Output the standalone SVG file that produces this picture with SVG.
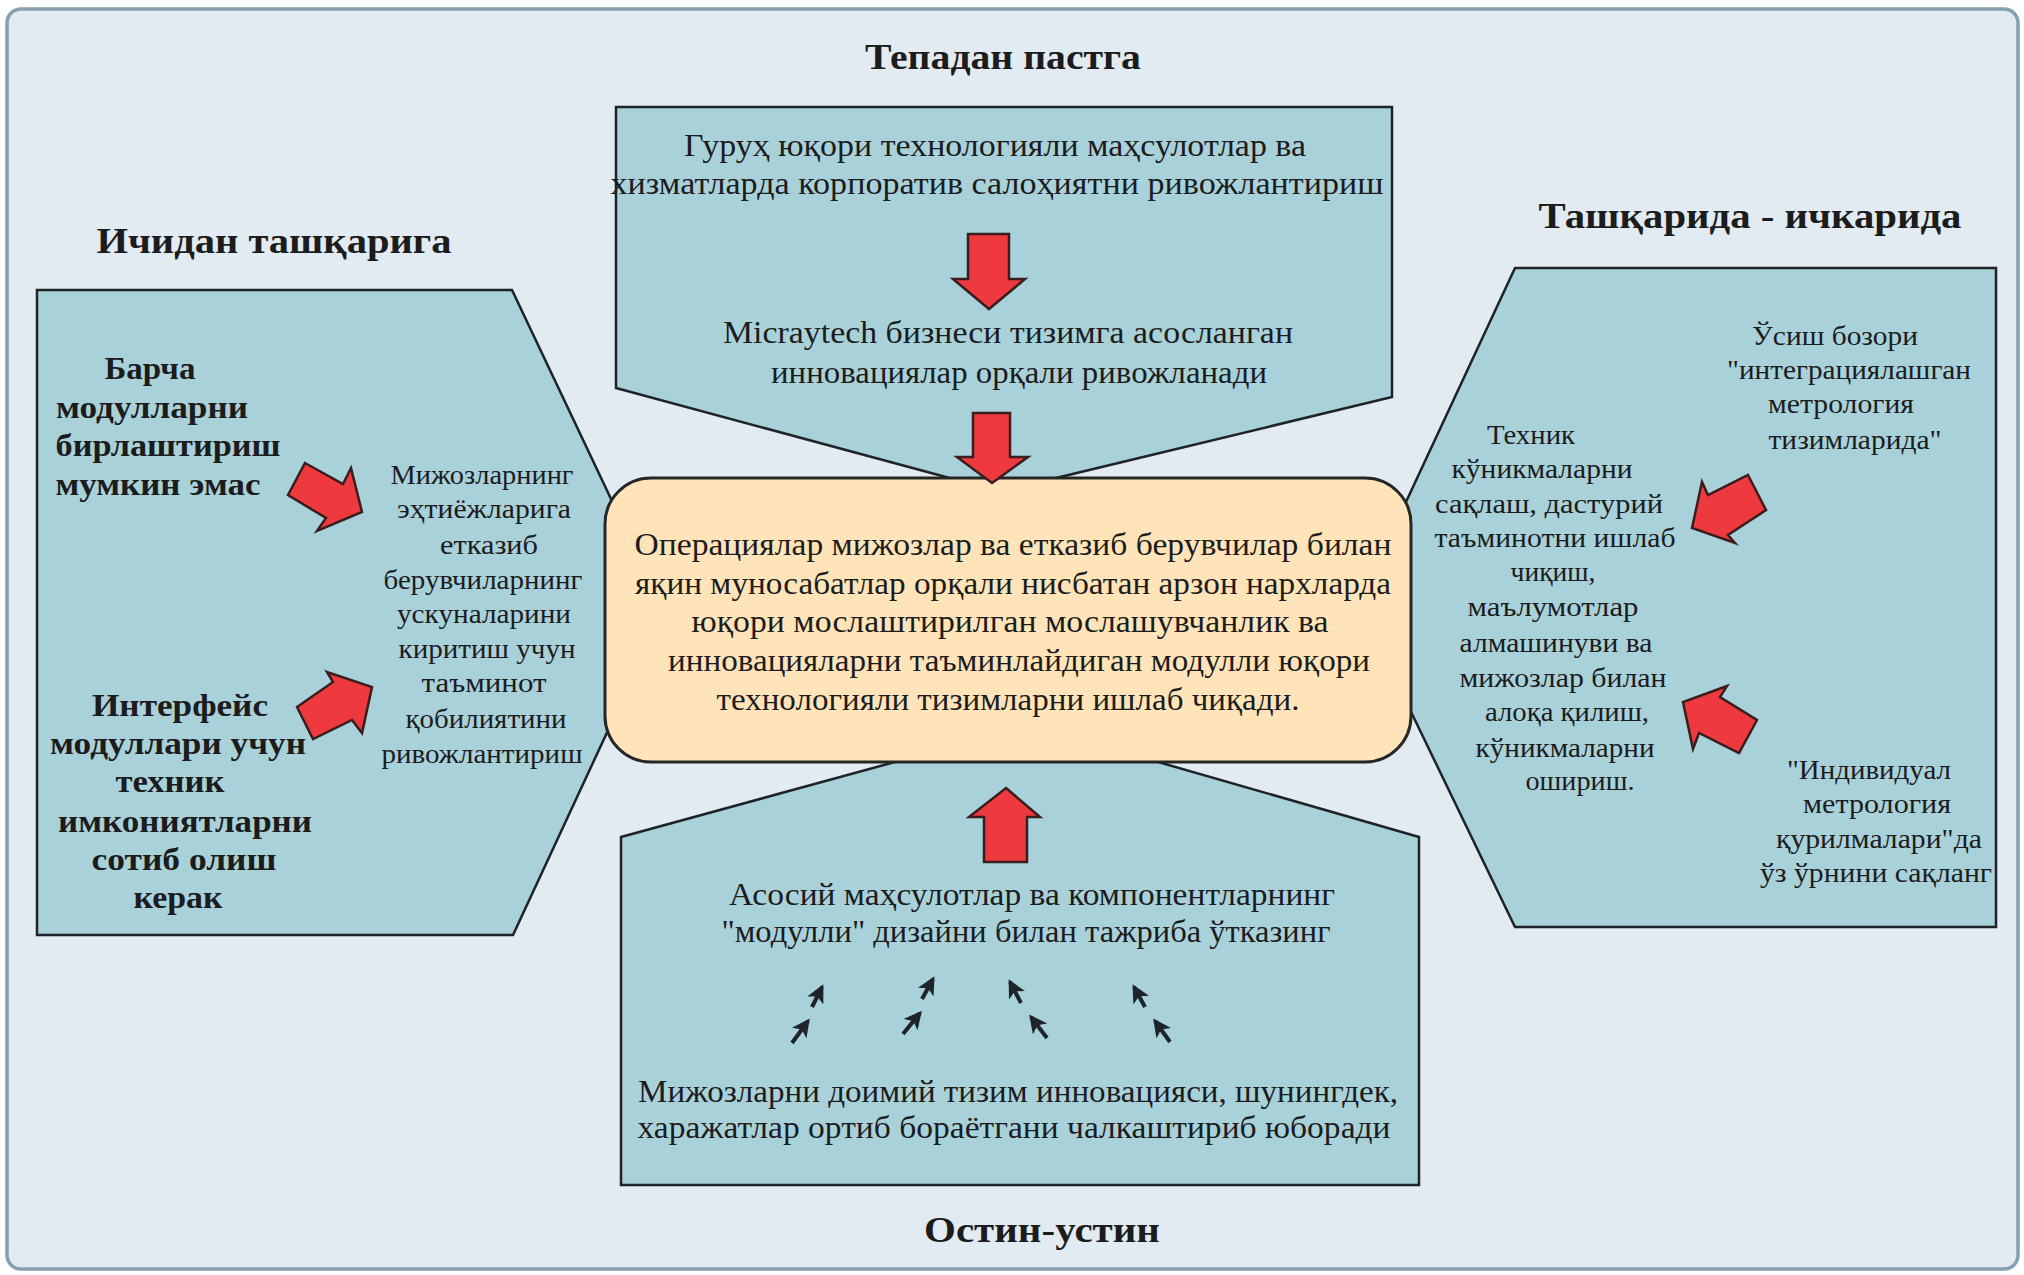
<svg xmlns="http://www.w3.org/2000/svg" width="2024" height="1275" viewBox="0 0 2024 1275">
<defs>
<style>
.box{fill:#a9d1da;stroke:#1d2326;stroke-width:2.5;stroke-linejoin:miter}
.core{fill:#fee4b8;stroke:#262626;stroke-width:3}
.red{fill:#ee3a3e;stroke:#3a1d1d;stroke-width:2.5;stroke-linejoin:miter}
.t{font-family:"Liberation Serif","Times New Roman",serif;fill:#1c1c1c;text-anchor:middle}
.h{font-size:36px;font-weight:bold}
.m{font-size:32px}
.s{font-size:28px}
.b{font-size:31px;font-weight:bold}
.blk{stroke:#1f2428;stroke-width:4;fill:none}
</style>
<marker id="ah" viewBox="0 0 12 12" refX="10" refY="6" markerWidth="18" markerHeight="18" markerUnits="userSpaceOnUse" orient="auto">
<path d="M0,0 L12,6 L0,12 L3,6 z" fill="#1f2428"/>
</marker>
</defs>
<rect x="0" y="0" width="2024" height="1275" fill="#ffffff"/>
<rect x="7" y="9" width="2011" height="1260" rx="14" fill="#e1ebf1" stroke="#86a0b0" stroke-width="3.5"/>

<g id="top-node">
<polygon class="box" points="616,107 1392,107 1392,397 1006,490 994,490 616,388"/>
<text class="t m" x="995" y="156" textLength="622" lengthAdjust="spacingAndGlyphs">Гуруҳ юқори технологияли маҳсулотлар ва</text>
<text class="t m" x="997" y="194" textLength="773" lengthAdjust="spacingAndGlyphs">хизматларда корпоратив салоҳиятни ривожлантириш</text>
<text class="t m" x="1008" y="343" textLength="570" lengthAdjust="spacingAndGlyphs">Micraytech бизнеси тизимга асосланган</text>
<text class="t m" x="1019" y="383" textLength="496" lengthAdjust="spacingAndGlyphs">инновациялар орқали ривожланади</text>
</g>

<g id="left-node">
<polygon class="box" points="37,290 512,290 630,539 630,683 513,935 37,935"/>
<text class="t b" x="150" y="379" textLength="91" lengthAdjust="spacingAndGlyphs">Барча</text>
<text class="t b" x="152" y="418" textLength="192" lengthAdjust="spacingAndGlyphs">модулларни</text>
<text class="t b" x="168" y="456" textLength="225" lengthAdjust="spacingAndGlyphs">бирлаштириш</text>
<text class="t b" x="158" y="495" textLength="205" lengthAdjust="spacingAndGlyphs">мумкин эмас</text>
<text class="t b" x="180" y="716" textLength="176" lengthAdjust="spacingAndGlyphs">Интерфейс</text>
<text class="t b" x="178" y="754" textLength="256" lengthAdjust="spacingAndGlyphs">модуллари учун</text>
<text class="t b" x="170" y="792" textLength="109" lengthAdjust="spacingAndGlyphs">техник</text>
<text class="t b" x="185" y="832" textLength="254" lengthAdjust="spacingAndGlyphs">имкониятларни</text>
<text class="t b" x="184" y="870" textLength="185" lengthAdjust="spacingAndGlyphs">сотиб олиш</text>
<text class="t b" x="178" y="908" textLength="89" lengthAdjust="spacingAndGlyphs">керак</text>
<text class="t s" x="482" y="484" textLength="183" lengthAdjust="spacingAndGlyphs">Мижозларнинг</text>
<text class="t s" x="484" y="518" textLength="174" lengthAdjust="spacingAndGlyphs">эҳтиёжларига</text>
<text class="t s" x="489" y="554" textLength="98" lengthAdjust="spacingAndGlyphs">етказиб</text>
<text class="t s" x="483" y="589" textLength="199" lengthAdjust="spacingAndGlyphs">берувчиларнинг</text>
<text class="t s" x="484" y="623" textLength="174" lengthAdjust="spacingAndGlyphs">ускуналарини</text>
<text class="t s" x="487" y="658" textLength="177" lengthAdjust="spacingAndGlyphs">киритиш учун</text>
<text class="t s" x="484" y="692" textLength="125" lengthAdjust="spacingAndGlyphs">таъминот</text>
<text class="t s" x="486" y="728" textLength="161" lengthAdjust="spacingAndGlyphs">қобилиятини</text>
<text class="t s" x="482" y="763" textLength="201" lengthAdjust="spacingAndGlyphs">ривожлантириш</text>
</g>

<g id="right-node">
<polygon class="box" points="1515,268 1996,268 1996,927 1515,927 1385,658 1385,547"/>
<text class="t s" x="1835" y="345" textLength="166" lengthAdjust="spacingAndGlyphs">Ўсиш бозори</text>
<text class="t s" x="1849" y="379" textLength="244" lengthAdjust="spacingAndGlyphs">"интеграциялашган</text>
<text class="t s" x="1841" y="413" textLength="146" lengthAdjust="spacingAndGlyphs">метрология</text>
<text class="t s" x="1855" y="449" textLength="173" lengthAdjust="spacingAndGlyphs">тизимларида"</text>
<text class="t s" x="1531" y="444" textLength="88" lengthAdjust="spacingAndGlyphs">Техник</text>
<text class="t s" x="1542" y="478" textLength="181" lengthAdjust="spacingAndGlyphs">кўникмаларни</text>
<text class="t s" x="1549" y="513" textLength="228" lengthAdjust="spacingAndGlyphs">сақлаш, дастурий</text>
<text class="t s" x="1555" y="547" textLength="241" lengthAdjust="spacingAndGlyphs">таъминотни ишлаб</text>
<text class="t s" x="1553" y="581" textLength="85" lengthAdjust="spacingAndGlyphs">чиқиш,</text>
<text class="t s" x="1553" y="616" textLength="171" lengthAdjust="spacingAndGlyphs">маълумотлар</text>
<text class="t s" x="1556" y="652" textLength="193" lengthAdjust="spacingAndGlyphs">алмашинуви ва</text>
<text class="t s" x="1563" y="687" textLength="207" lengthAdjust="spacingAndGlyphs">мижозлар билан</text>
<text class="t s" x="1567" y="721" textLength="164" lengthAdjust="spacingAndGlyphs">алоқа қилиш,</text>
<text class="t s" x="1565" y="757" textLength="179" lengthAdjust="spacingAndGlyphs">кўникмаларни</text>
<text class="t s" x="1580" y="790" textLength="109" lengthAdjust="spacingAndGlyphs">ошириш.</text>
<text class="t s" x="1869" y="779" textLength="164" lengthAdjust="spacingAndGlyphs">"Индивидуал</text>
<text class="t s" x="1877" y="813" textLength="148" lengthAdjust="spacingAndGlyphs">метрология</text>
<text class="t s" x="1879" y="848" textLength="206" lengthAdjust="spacingAndGlyphs">қурилмалари"да</text>
<text class="t s" x="1876" y="882" textLength="232" lengthAdjust="spacingAndGlyphs">ўз ўрнини сақланг</text>
</g>

<g id="bottom-node">
<polygon class="box" points="621,837 957,745 1099,745 1419,837 1419,1185 621,1185"/>
<text class="t m" x="1032" y="905" textLength="606" lengthAdjust="spacingAndGlyphs">Асосий маҳсулотлар ва компонентларнинг</text>
<text class="t m" x="1026" y="942" textLength="609" lengthAdjust="spacingAndGlyphs">"модулли" дизайни билан тажриба ўтказинг</text>
<text class="t m" x="1018" y="1102" textLength="760" lengthAdjust="spacingAndGlyphs">Мижозларни доимий тизим инновацияси, шунингдек,</text>
<text class="t m" x="1014" y="1138" textLength="753" lengthAdjust="spacingAndGlyphs">харажатлар ортиб бораётгани чалкаштириб юборади</text>
</g>

<g id="center-node">
<rect class="core" x="605" y="478" width="806" height="284" rx="46" ry="46"/>
<text class="t m" x="1013" y="555" textLength="757" lengthAdjust="spacingAndGlyphs">Операциялар мижозлар ва етказиб берувчилар билан</text>
<text class="t m" x="1013" y="594" textLength="756" lengthAdjust="spacingAndGlyphs">яқин муносабатлар орқали нисбатан арзон нархларда</text>
<text class="t m" x="1010" y="632" textLength="637" lengthAdjust="spacingAndGlyphs">юқори мослаштирилган мослашувчанлик ва</text>
<text class="t m" x="1019" y="671" textLength="702" lengthAdjust="spacingAndGlyphs">инновацияларни таъминлайдиган модулли юқори</text>
<text class="t m" x="1008" y="710" textLength="583" lengthAdjust="spacingAndGlyphs">технологияли тизимларни ишлаб чиқади.</text>
</g>

<g id="headings">
<text class="t h" x="1003" y="69" textLength="276" lengthAdjust="spacingAndGlyphs">Тепадан пастга</text>
<text class="t h" x="274" y="253" textLength="355" lengthAdjust="spacingAndGlyphs">Ичидан ташқарига</text>
<text class="t h" x="1750" y="228" textLength="423" lengthAdjust="spacingAndGlyphs">Ташқарида - ичкарида</text>
<text class="t h" x="1042" y="1242" textLength="236" lengthAdjust="spacingAndGlyphs">Остин-устин</text>
</g>

<g id="connectors">
<polygon class="red" points="968,234 1009,234 1009,279 1025,279 989,309 953,279 968,279"/>
<polygon class="red" points="973,413 1010,413 1010,457 1028,457 992,483 957,457 973,457"/>
<polygon class="red" points="1006,788 1040,817 1027,817 1027,862 984,862 984,817 969,817"/>
<polygon class="red" points="305,463 343,484 351,468 362,512 317,531 326,518 288,495"/>
<polygon class="red" points="297,707 333,682 327,672 372,687 362,733 352,720 313,739"/>
<polygon class="red" points="1748,475 1766,510 1728,535 1735,543 1692,528 1702,482 1708,495"/>
<polygon class="red" points="1757,720 1739,753 1699,733 1693,749 1683,702 1727,686 1720,697"/>
<line class="blk" x1="812" y1="1007" x2="822" y2="987" marker-end="url(#ah)"/>
<line class="blk" x1="792" y1="1043" x2="808" y2="1021" marker-end="url(#ah)"/>
<line class="blk" x1="922" y1="999" x2="933" y2="979" marker-end="url(#ah)"/>
<line class="blk" x1="903" y1="1034" x2="920" y2="1013" marker-end="url(#ah)"/>
<line class="blk" x1="1021" y1="1003" x2="1010" y2="982" marker-end="url(#ah)"/>
<line class="blk" x1="1047" y1="1038" x2="1031" y2="1017" marker-end="url(#ah)"/>
<line class="blk" x1="1145" y1="1007" x2="1134" y2="987" marker-end="url(#ah)"/>
<line class="blk" x1="1170" y1="1042" x2="1155" y2="1021" marker-end="url(#ah)"/>
</g>
</svg>
